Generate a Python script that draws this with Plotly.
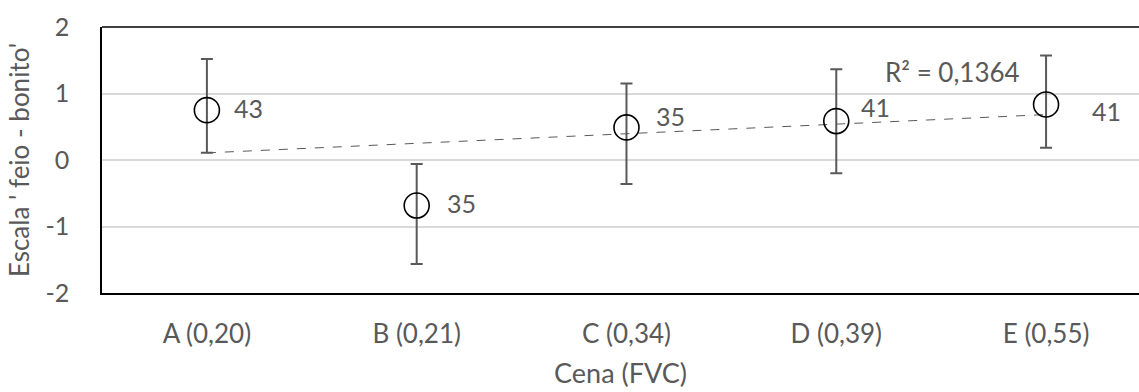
import numpy as np
import plotly.graph_objects as go

categories = ["A (0,20)", "B (0,21)", "C (0,34)", "D (0,39)", "E (0,55)"]
means = [0.75, -0.685, 0.49, 0.585, 0.835]
err_plus = [0.77, 0.625, 0.66, 0.78, 0.735]
err_minus = [0.64, 0.88, 0.85, 0.785, 0.65]
counts = ["43", "35", "35", "41", "41"]
r2_label = "R² = 0,1364"
y_ticks = [-2, -1, 0, 1, 2]
y_ticktext = ["-2", "-1", "0", "1", "2"]

xpos = np.arange(len(categories))
slope, intercept = np.polyfit(xpos, means, 1)
trend = slope * xpos + intercept

TXT = "#595959"
FONT = "Lato"

fig = go.Figure()
fig.add_trace(go.Scatter(
    x=xpos, y=trend, mode="lines",
    line=dict(color="#595959", width=1, dash="dash"),
    hoverinfo="skip", showlegend=False))
fig.add_trace(go.Scatter(
    x=xpos, y=means, mode="markers",
    marker=dict(symbol="circle-open", size=25, color="black", line=dict(width=1.6, color="black")),
    error_y=dict(type="data", symmetric=False, array=err_plus, arrayminus=err_minus,
                 color="#595959", thickness=2, width=6),
    showlegend=False))

shifts = [(42, 2), (45, 3), (44, 11), (39, 14), (60, -7)]
for i, (c, (dx, dy)) in enumerate(zip(counts, shifts)):
    fig.add_annotation(x=xpos[i], y=means[i], text=c, showarrow=False,
                       xshift=dx, yshift=dy, font=dict(size=25, color=TXT, family=FONT))

fig.add_annotation(x=3.556, y=1.32, text=r2_label, showarrow=False,
                   font=dict(size=26, color=TXT, family=FONT))

fig.add_shape(type="line", xref="paper", yref="paper", x0=0, x1=1, y0=1, y1=1,
              line=dict(color="black", width=1.5))

fig.update_layout(
    width=1139, height=392,
    margin=dict(l=102, r=0, t=27, b=99),
    plot_bgcolor="white", paper_bgcolor="white",
    font=dict(family=FONT, color=TXT, size=25),
)
fig.update_xaxes(
    range=[-0.5, 4.443], tickvals=list(xpos), ticktext=categories,
    showgrid=False, zeroline=False, showline=True, linecolor="black", linewidth=2,
    ticks="", ticklabelstandoff=17, tickfont=dict(size=26, color=TXT),
    title=dict(text="Cena (FVC)", font=dict(size=27, color=TXT), standoff=16),
)
fig.update_yaxes(
    range=[-2, 2], tickvals=y_ticks, ticktext=y_ticktext,
    showgrid=True, gridcolor="#d9d9d9", gridwidth=1.5, zeroline=False,
    showline=True, linecolor="black", linewidth=1.5,
    ticks="", ticklabelstandoff=26, tickfont=dict(size=25, color=TXT),
    title=dict(text="Escala ' feio - bonito'", font=dict(size=26, color=TXT), standoff=8),
)

fig.write_html("out.html")
